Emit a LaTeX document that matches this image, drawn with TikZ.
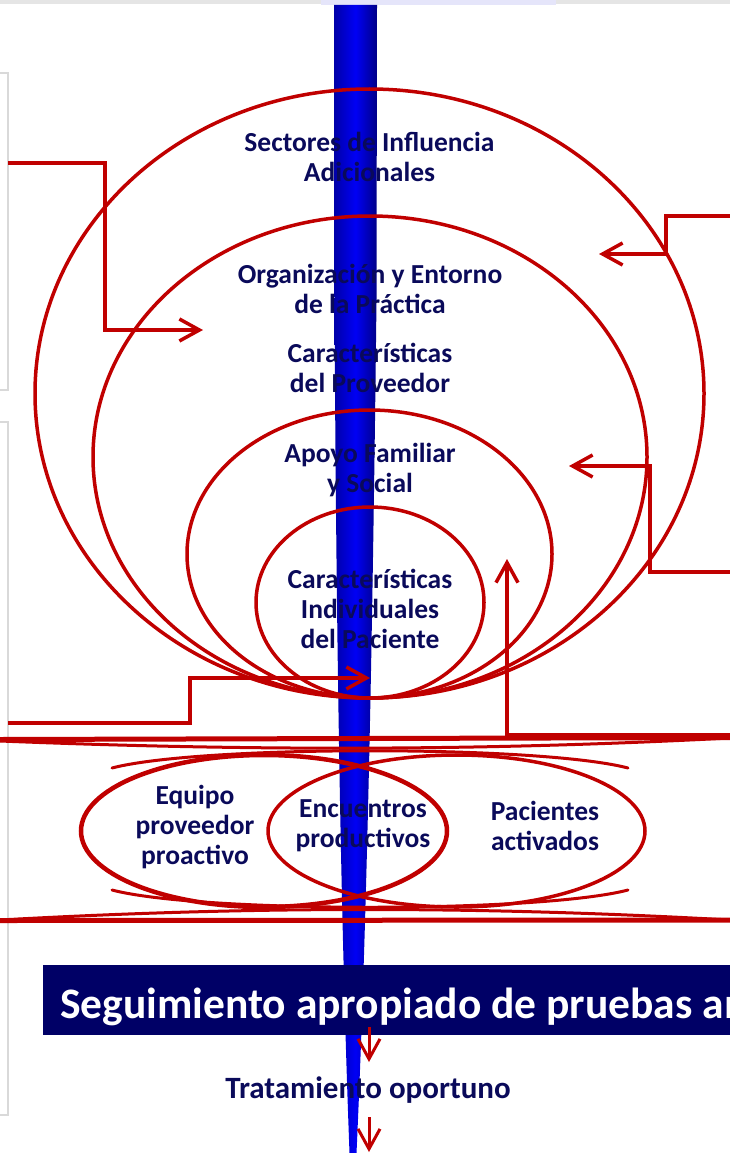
\documentclass[tikz,border=0pt]{standalone}
\usepackage{fontspec}
\setmainfont{Carlito}
\usetikzlibrary{arrows.meta}
\definecolor{ringred}{RGB}{192,0,0}
\definecolor{navytext}{RGB}{10,10,90}
\definecolor{bannerblue}{RGB}{0,0,102}
\definecolor{spikeleft}{RGB}{0,0,168}
\definecolor{spikemid}{RGB}{0,0,245}
\definecolor{spikeright}{RGB}{0,0,135}

\begin{document}
\begin{tikzpicture}[x=1pt, y=-1pt,
		ring/.style={draw=ringred, line width=3.5pt},
		conn/.style={draw=ringred, line width=3.5pt, -{Straight Barb[length=20pt, width=22pt]}},
		lbl/.style={text=navytext, font=\fontsize{27.5}{30}\selectfont\bfseries, align=center, inner sep=0pt},
		panel/.style={draw=black!15, line width=1.5pt}]
		%%%%% START %%%%%
		\useasboundingbox (0,0) rectangle (730,1153);
		\fill[black!10] (0,0) rectangle (730,4);
		\fill[black!20!blue!10] (321,0) rectangle (556,5);
		\draw[panel] (-5,73) rectangle (8,390);
		\draw[panel] (-5,422) rectangle (8,1115);
		
		\shade[left color=spikeleft, right color=spikeright, middle color=spikemid]
			(334,5) -- (334.5,300) .. controls (336,600) and (340,900) .. (349.5,1153)
			-- (356.5,1153) .. controls (368,900) and (373,600) .. (376.5,300) -- (377,5) -- cycle;
		
		\draw[ring] (369.5,393.5) ellipse [x radius=334.5pt, y radius=304.5pt];
		\draw[ring] (370,457) ellipse [x radius=277pt, y radius=241pt];
		\draw[ring] (369.5,554) ellipse [x radius=182.5pt, y radius=144pt];
		\draw[ring] (370,602.5) ellipse [x radius=114pt, y radius=95.5pt];
		
		\draw[ring, line width=5pt] (0,739.5) -- (730,737.5);
		\draw[ring, line width=3pt] (0,741) .. controls (250,751) and (480,751) .. (730,738);
		\draw[ring, line width=3pt, line cap=round] (112,768) .. controls (200,745) and (540,745) .. (628,768);
		\draw[ring, line width=4.5pt] (264,831) ellipse [x radius=183pt, y radius=76pt];
		\draw[ring] (456.5,831) ellipse [x radius=188.5pt, y radius=76pt];
		\draw[ring, line width=3pt, line cap=round] (112,890) .. controls (200,913) and (540,913) .. (628,890);
		\draw[ring, line width=3pt] (0,920) .. controls (250,906) and (480,906) .. (730,920);
		\draw[ring, line width=5pt] (0,920.5) -- (730,920);
		
		\coordinate (leftA) at (8,163);
		\coordinate (tipA) at (203,330);
		\coordinate (rightB) at (730,216);
		\coordinate (tipB) at (599,254);
		\coordinate (rightC) at (730,572);
		\coordinate (tipC) at (569,466);
		\coordinate (leftD) at (8,723);
		\coordinate (tipD) at (370,678);
		\coordinate (rightE) at (730,735);
		\coordinate (tipE) at (507,559);
		\draw[conn] (leftA) -| (105,330) -- (tipA);
		\draw[conn] (rightB) -| (666,254) -- (tipB);
		\draw[conn] (rightC) -| (650,466) -- (tipC);
		\draw[conn] (leftD) -| (190,678) -- (tipD);
		\draw[conn] (rightE) -| (tipE);
		
		\fill[bannerblue] (43,965) rectangle (740,1035);
		\node[anchor=base west, text=white, inner sep=0pt, font=\fontsize{43.5}{50}\selectfont\bfseries] (seguimiento) at (60,1018) {Seguimiento apropiado de pruebas an};
		
		\coordinate (downA) at (369,1027);
		\coordinate (downAend) at (369,1062);
		\coordinate (downB) at (369,1117);
		\coordinate (downBend) at (369,1152);
		\draw[conn, line width=3pt] (downA) -- (downAend);
		\draw[conn, line width=3pt] (downB) -- (downBend);
		
		\node[lbl] (sectores) at (369.5,157) {Sectores de Influencia\\Adicionales};
		\node[lbl] (entorno) at (370,289) {Organización y Entorno\\de la Práctica};
		\node[lbl] (proveedor) at (370,368) {Características\\del Proveedor};
		\node[lbl] (apoyo) at (370,470) {Apoyo Familiar\\y Social};
		\node[lbl] (paciente) at (370,609) {Características\\Individuales\\del Paciente};
		\node[lbl] (equipo) at (195,827) {Equipo\\proveedor\\proactivo};
		\node[lbl] (encuentros) at (363,826) {Encuentros\\productivos};
		\node[lbl] (activados) at (545,826) {Pacientes\\activados};
		\node[lbl, font=\fontsize{31}{36}\selectfont\bfseries] (tratamiento) at (368,1090) {Tratamiento oportuno};
		%%%%% END %%%%%
	\end{tikzpicture}
\end{document}
